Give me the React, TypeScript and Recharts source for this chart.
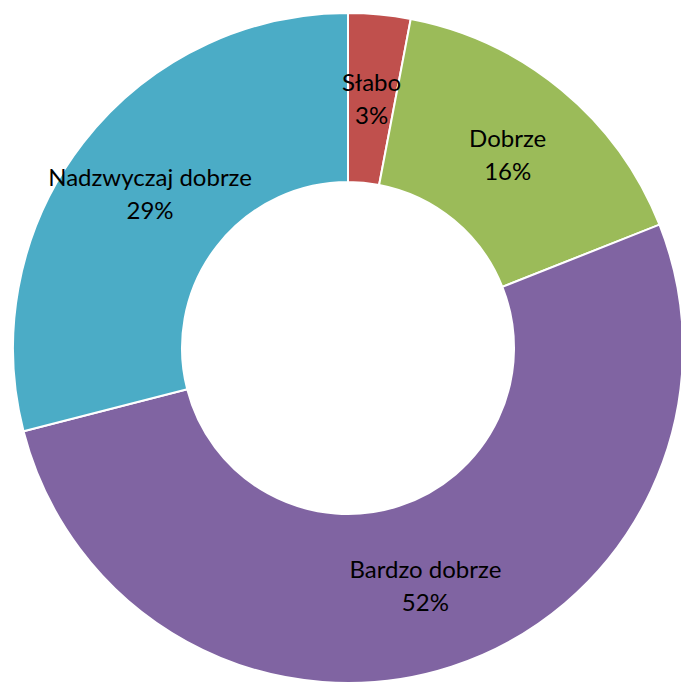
import { PieChart, Pie, Cell } from "recharts";

const categories = ["Słabo", "Dobrze", "Bardzo dobrze", "Nadzwyczaj dobrze"];
const values = [3, 16, 52, 29];
const colors = ["#C0504D", "#9BBB59", "#8064A2", "#4BACC6"];

const data = categories.map((name, i) => ({ name, value: values[i] }));
const total = values.reduce((a, b) => a + b, 0);

const RAD = Math.PI / 180;

function SliceLabel(props: any) {
  const { cx, cy, midAngle, innerRadius, outerRadius, name, value } = props;
  const r = (innerRadius + outerRadius) / 2;
  const x = cx + r * Math.cos(-midAngle * RAD);
  const y = cy + r * Math.sin(-midAngle * RAD);
  const pct = Math.round((value / total) * 100);
  return (
    <text
      x={x}
      y={y}
      textAnchor="middle"
      fill="#000"
      fontSize={24}
      fontFamily="Lato, 'Open Sans', sans-serif"
    >
      <tspan x={x} dy={-8}>
        {name}
      </tspan>
      <tspan x={x} dy={33}>
        {pct}%
      </tspan>
    </text>
  );
}

export default function App() {
  return (
    <div style={{ position: "fixed", left: 0, top: 0, width: 681, height: 684, background: "#fff" }}>
      <PieChart width={681} height={684} margin={{ top: 0, right: 0, bottom: 0, left: 0 }}>
        <Pie
          data={data}
          dataKey="value"
          nameKey="name"
          cx={348}
          cy={348}
          innerRadius={166}
          outerRadius={335}
          startAngle={90}
          endAngle={-270}
          stroke="#fff"
          strokeWidth={2}
          label={SliceLabel}
          labelLine={false}
          isAnimationActive={false}
        >
          {data.map((d, i) => (
            <Cell key={d.name} fill={colors[i]} />
          ))}
        </Pie>
      </PieChart>
    </div>
  );
}
